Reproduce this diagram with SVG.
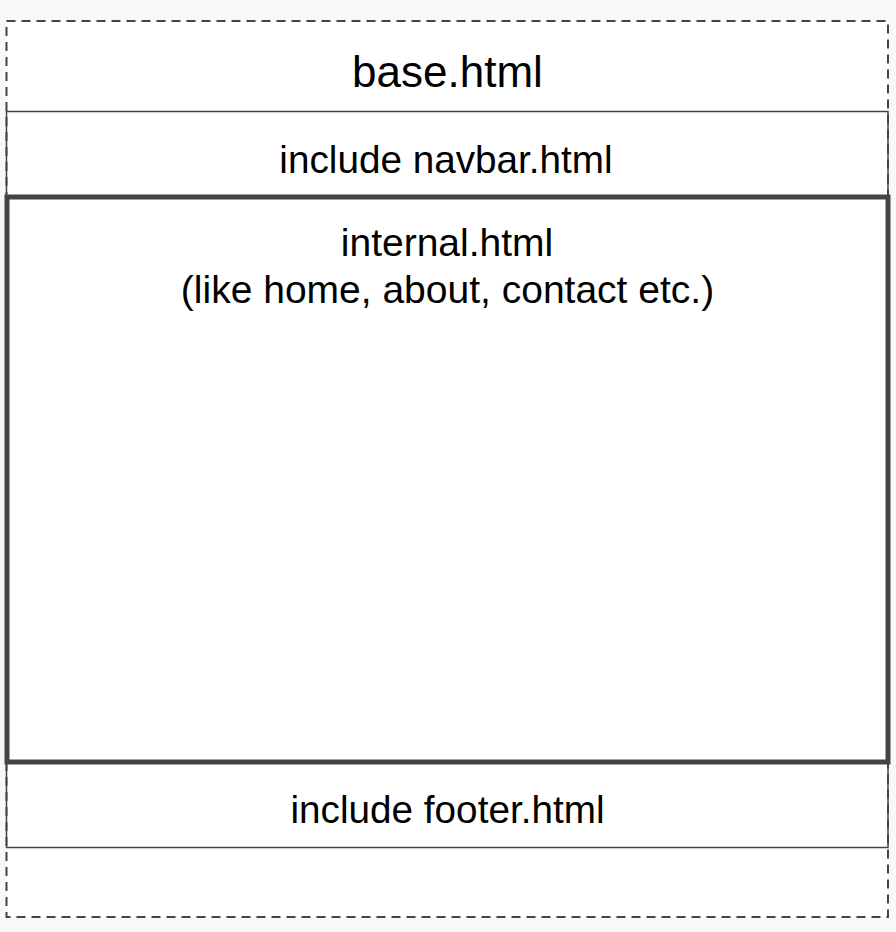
<svg xmlns="http://www.w3.org/2000/svg" width="896" height="932" viewBox="0 0 896 932">
<style>
.t{font-family:"Liberation Sans",Arial,sans-serif;fill:#000;text-anchor:middle}
.box{fill:none;stroke:#444;stroke-width:1.5}
</style>
<rect x="0" y="0" width="896" height="932" fill="#f8f8f8"/>
<g id="base">
<rect x="6.5" y="21" width="881.5" height="896" fill="#fff" stroke="#444" stroke-width="2" stroke-dasharray="9 6"/>
<text class="t" x="447.5" y="87" font-size="44">base.html</text>
</g>
<g id="navbar">
<rect class="box" x="6.5" y="111.5" width="881.5" height="85"/>
<text class="t" x="446" y="173" font-size="38.7">include navbar.html</text>
</g>
<g id="footer">
<rect class="box" x="6.5" y="762" width="881.5" height="85.5"/>
<text class="t" x="447.5" y="823" font-size="38.7">include footer.html</text>
</g>
<g id="internal">
<rect x="7" y="197" width="881" height="565" fill="none" stroke="#444" stroke-width="5"/>
<text class="t" x="447" y="256" font-size="39">internal.html</text>
<text class="t" x="447.5" y="303" font-size="39">(like home, about, contact etc.)</text>
</g>
<g id="connectors"/>
</svg>
